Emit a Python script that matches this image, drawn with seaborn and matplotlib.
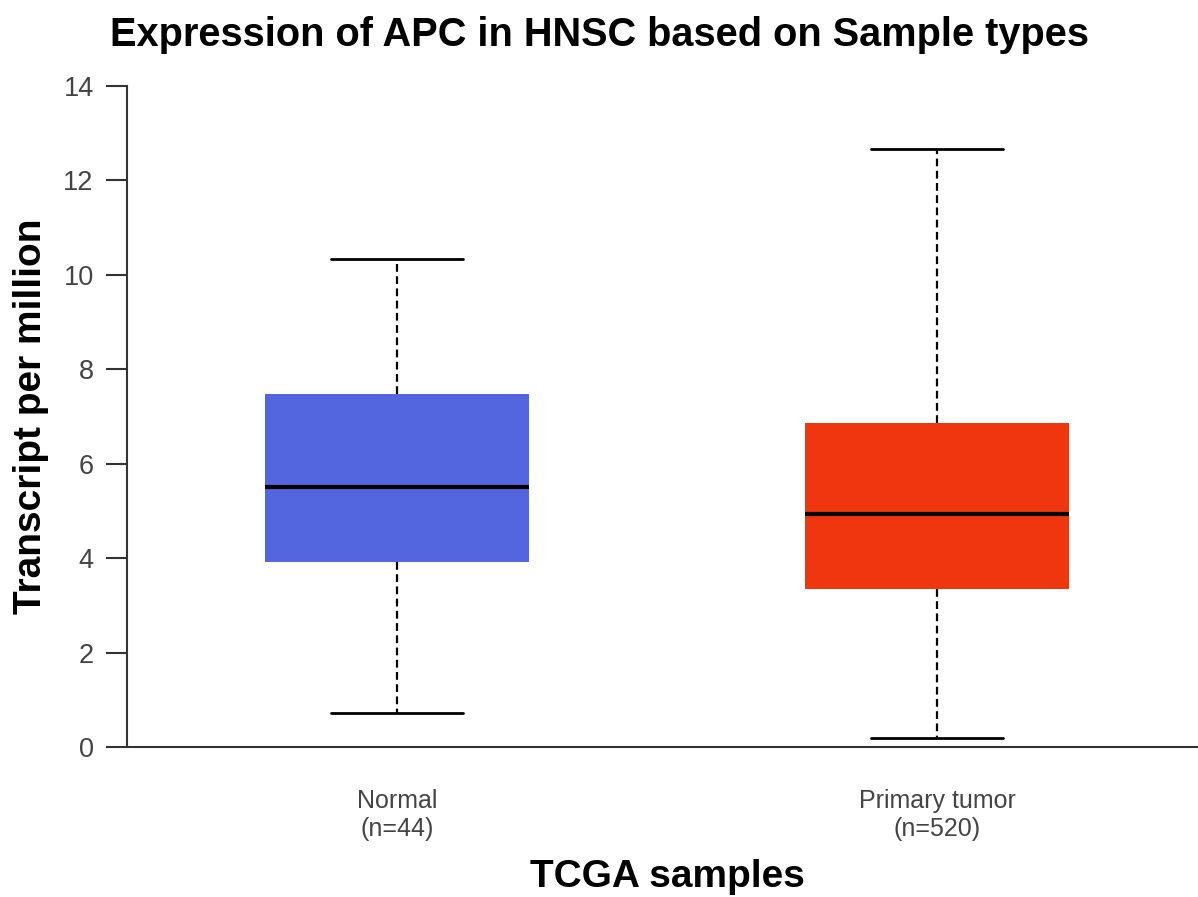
import matplotlib
matplotlib.use("Agg")
import matplotlib.pyplot as plt
import seaborn as sns
import pandas as pd

# Data: lower whisker, Q1, median, Q3, upper whisker
categories = ["Normal\n(n=44)", "Primary tumor\n(n=520)"]
normal_stats = [0.72, 3.92, 5.51, 7.48, 10.33]
tumor_stats = [0.19, 3.35, 4.94, 6.86, 12.67]
box_colors = ["#5366e0", "#ef360e"]
yticks = [0, 2, 4, 6, 8, 10, 12, 14]

df = pd.DataFrame({
    "group": [categories[0]] * len(normal_stats) + [categories[1]] * len(tumor_stats),
    "tpm": normal_stats + tumor_stats,
})

sns.set_theme(style="ticks")
plt.rcParams["font.family"] = ["Liberation Sans", "DejaVu Sans"]

fig = plt.figure(figsize=(11.98, 8.97), dpi=100)
ax = fig.add_axes([127 / 1198, 150 / 897, (1207 - 127) / 1198, (747 - 86) / 897])

sns.boxplot(
    data=df, x="group", y="tpm", hue="group", order=categories, hue_order=categories,
    palette=box_colors, legend=False, width=0.49, whis=(0, 100), ax=ax,
    saturation=1,
    boxprops=dict(edgecolor="none", linewidth=0),
    whiskerprops=dict(color="black", linestyle=(0, (3.5, 2)), linewidth=1.6),
    capprops=dict(color="black", linewidth=2.0),
    medianprops=dict(color="black", linewidth=3.0),
    flierprops=dict(marker=""),
)

ax.set_xlim(-0.5, 1.5)
ax.set_ylim(0, 14)
ax.set_yticks(yticks)
ax.set_yticklabels([str(v) for v in yticks])
for s in ["top", "right"]:
    ax.spines[s].set_visible(False)
for s in ["left", "bottom"]:
    ax.spines[s].set_color("#333333")
    ax.spines[s].set_linewidth(1.5)
ax.tick_params(axis="y", length=15, width=1.5, color="#333333", labelsize=19.5,
               labelcolor="#444444", pad=9)
ax.tick_params(axis="x", length=0, labelsize=18, labelcolor="#444444", pad=30)
for lbl in ax.get_xticklabels():
    lbl.set_linespacing(1.25)

ax.set_xlabel("TCGA samples", fontsize=28, fontweight="bold", labelpad=13, color="black")
ax.set_ylabel("Transcript per million", fontsize=28, fontweight="bold", labelpad=10, color="black")
fig.suptitle("Expression of APC in HNSC based on Sample types", x=0.5, y=0.982,
             fontsize=28.6, fontweight="bold", va="top", color="black")

fig.savefig("out.png", dpi=100)
